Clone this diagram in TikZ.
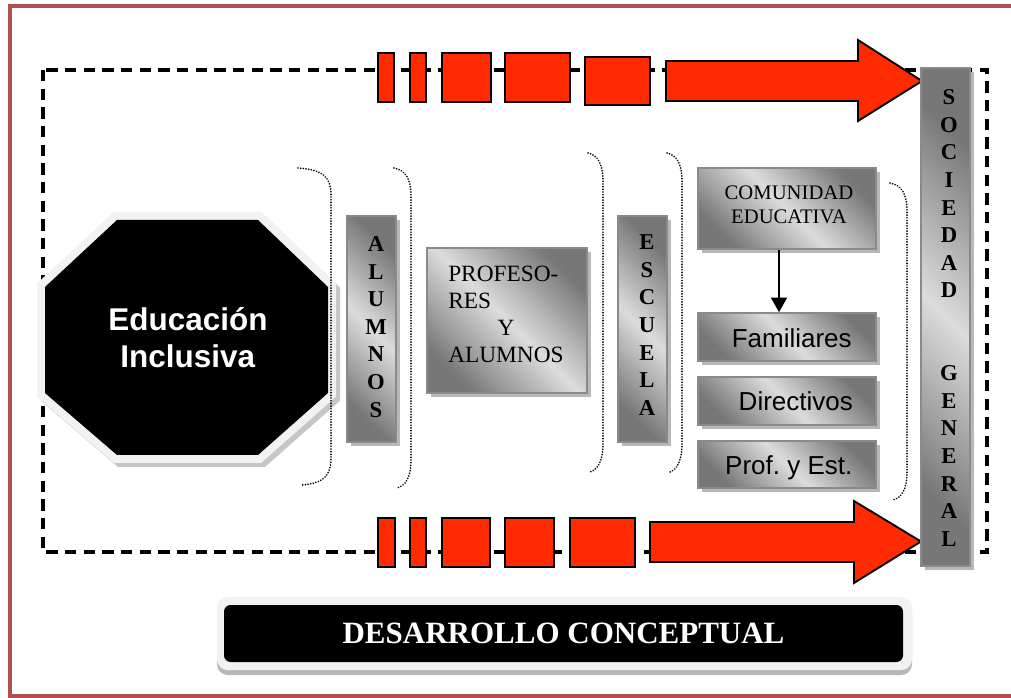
\documentclass[tikz,border=0pt]{standalone}
\usepackage{fontspec}
\setmainfont{Liberation Serif}
\newfontfamily\arialf{Liberation Sans}
\usetikzlibrary{arrows.meta,calc}
\definecolor{framered}{HTML}{B0504E}
\definecolor{redfill}{HTML}{FF2A00}
\definecolor{boxdark}{HTML}{777777}
\definecolor{boxlight}{HTML}{DCDCDC}
\definecolor{boxedge}{HTML}{8A8A8A}
\definecolor{shadowgray}{HTML}{B8B8B8}
\definecolor{lightrim}{HTML}{F2F2F2}
\newcommand\gbox[5]{%
  \fill[shadowgray] (#2-#4/2+4,#3-#5/2+4) rectangle (#2+#4/2+4,#3+#5/2+4);
  \node[graybox, minimum width=#4*0.75pt, minimum height=#5*0.75pt] (#1) at (#2,#3) {};}
\newcommand\mybrk[5]{%
  \draw[dotbracket] (#1,#2) .. controls (#3-6,#2+2) and (#3,#2+10) .. (#3,#2+28)
    -- (#3,#5-28) .. controls (#3,#5-10) and (#3-6,#5-2) .. (#4,#5);}
\begin{document}
\begin{tikzpicture}[x=0.75pt,y=-0.75pt,
  graybox/.style={draw=boxedge, line width=1.2pt, left color=boxdark, right color=boxdark,
    middle color=boxlight, shading angle=-45, inner sep=0pt},
  redbox/.style={draw=black, line width=1.4pt, fill=redfill, line join=miter},
  dashline/.style={line width=2.6pt, dash pattern=on 8.5pt off 5.5pt},
  dotbracket/.style={line width=1.4pt, dash pattern=on 0.01pt off 2pt, line cap=round},
  barletters/.style={font=\fontsize{17}{20.7}\selectfont\bfseries, align=center, inner sep=0pt},
  serifbox/.style={font=\fontsize{17.5}{20.25}\selectfont, inner sep=0pt},
  sansbox/.style={font=\arialf\fontsize{19.5}{23}\selectfont, inner sep=0pt, anchor=base},
]
\useasboundingbox (0,0) rectangle (1011,698);
\clip (0,0) rectangle (1011,698);
% outer frame
\draw[framered, line width=3pt] (10,6) rectangle (1040,695.5);
% dashed loop
\draw[dashline] (43,70) rectangle (987,552);
% top red blocks and arrow
\foreach \a/\b in {378/394, 410/426, 442/491, 505/570}
  \draw[redbox] (\a,53) rectangle (\b,102);
\draw[redbox] (585,57) rectangle (650,105);
\draw[redbox] (666,61) -- (858,61) -- (858,40) -- (922,81) -- (858,121) -- (858,101) -- (666,101) -- cycle;
% bottom red blocks and arrow
\foreach \a/\b in {378/395, 410/426, 442/490, 505/554, 570/635}
  \draw[redbox] (\a,518) rectangle (\b,567);
\draw[redbox] (650,522) -- (854,522) -- (854,501) -- (921,541.5) -- (854,583) -- (854,562) -- (650,562) -- cycle;
% octagon
\def\octpath{(117,220) -- (258,220) -- (328,287) -- (328,393) -- (258,455) -- (117,455) -- (45,393) -- (45,287) -- cycle}
\draw[shift={(4,4)}, fill=shadowgray!80, draw=shadowgray!80, line width=12pt, line join=miter] \octpath;
\draw[lightrim, fill=lightrim, line width=12pt, line join=miter] \octpath;
\fill[black] \octpath;
\node[font=\arialf\bfseries\fontsize{23.6}{28}\selectfont, text=white, anchor=base, inner sep=0pt] (edu1) at (188,331) {Educación};
\node[font=\arialf\bfseries\fontsize{23.6}{28}\selectfont, text=white, anchor=base, inner sep=0pt] (edu2) at (187.7,367.7) {Inclusiva};
% brackets
\mybrk{298}{168}{331}{302}{485}
\mybrk{394}{168}{411}{397}{488}
\mybrk{588}{153}{603}{590}{472}
\mybrk{667}{153}{682}{670}{472}
\mybrk{890}{183}{907}{893}{500}
% gray boxes
\gbox{alumnos}{371.5}{329}{49}{226}
\gbox{escuela}{642.5}{329}{49}{226}
\gbox{sociedad}{945.5}{317}{49}{498}
\gbox{profes}{507}{320.5}{160}{145}
\gbox{comunidad}{787}{208.5}{178}{81}
\gbox{familiares}{787}{337}{178}{48}
\gbox{directivos}{787}{401}{178}{48}
\gbox{profest}{787}{464.5}{178}{47}
% texts
\node[barletters] (alumnosT) at (376,327) {A\\L\\U\\M\\N\\O\\S};
\node[barletters] (escuelaT) at (647,325) {E\\S\\C\\U\\E\\L\\A};
\node[barletters] (sociedadT) at (949,318) {S\\O\\C\\I\\E\\D\\A\\D\\~\\~\\G\\E\\N\\E\\R\\A\\L};
\node[serifbox, align=left, anchor=west] (profesT) at (448,314.6) {PROFESO-\\RES\\\hspace*{37pt}Y\\ALUMNOS};
\node[font=\fontsize{15.5}{18}\selectfont, align=center, inner sep=0pt] (comunidadT) at (789,205.3) {COMUNIDAD\\EDUCATIVA};
\node[sansbox] (familiaresT) at (791.7,347.3) {Familiares};
\node[sansbox] (directivosT) at (795.8,410.7) {Directivos};
\node[sansbox] (profestT) at (788.8,475) {Prof.\ y Est.};
% arrow
\draw[line width=1.5pt, -{Triangle[length=11pt,width=12pt]}] ([xshift=-6pt]comunidad.south) -- ([xshift=-6pt]familiares.north);
% title
\fill[shadowgray, rounded corners=8pt] (217,603) rectangle (912,675);
\fill[lightrim, rounded corners=8pt] (217,597) rectangle (912,670);
\node[fill=black, rounded corners=5pt, minimum width=509.25pt, minimum height=42.75pt, inner sep=0pt,
  text=white, font=\fontsize{23.25}{28}\selectfont\bfseries] (title) at (563.5,633.5) {DESARROLLO CONCEPTUAL};
\end{tikzpicture}
\end{document}
